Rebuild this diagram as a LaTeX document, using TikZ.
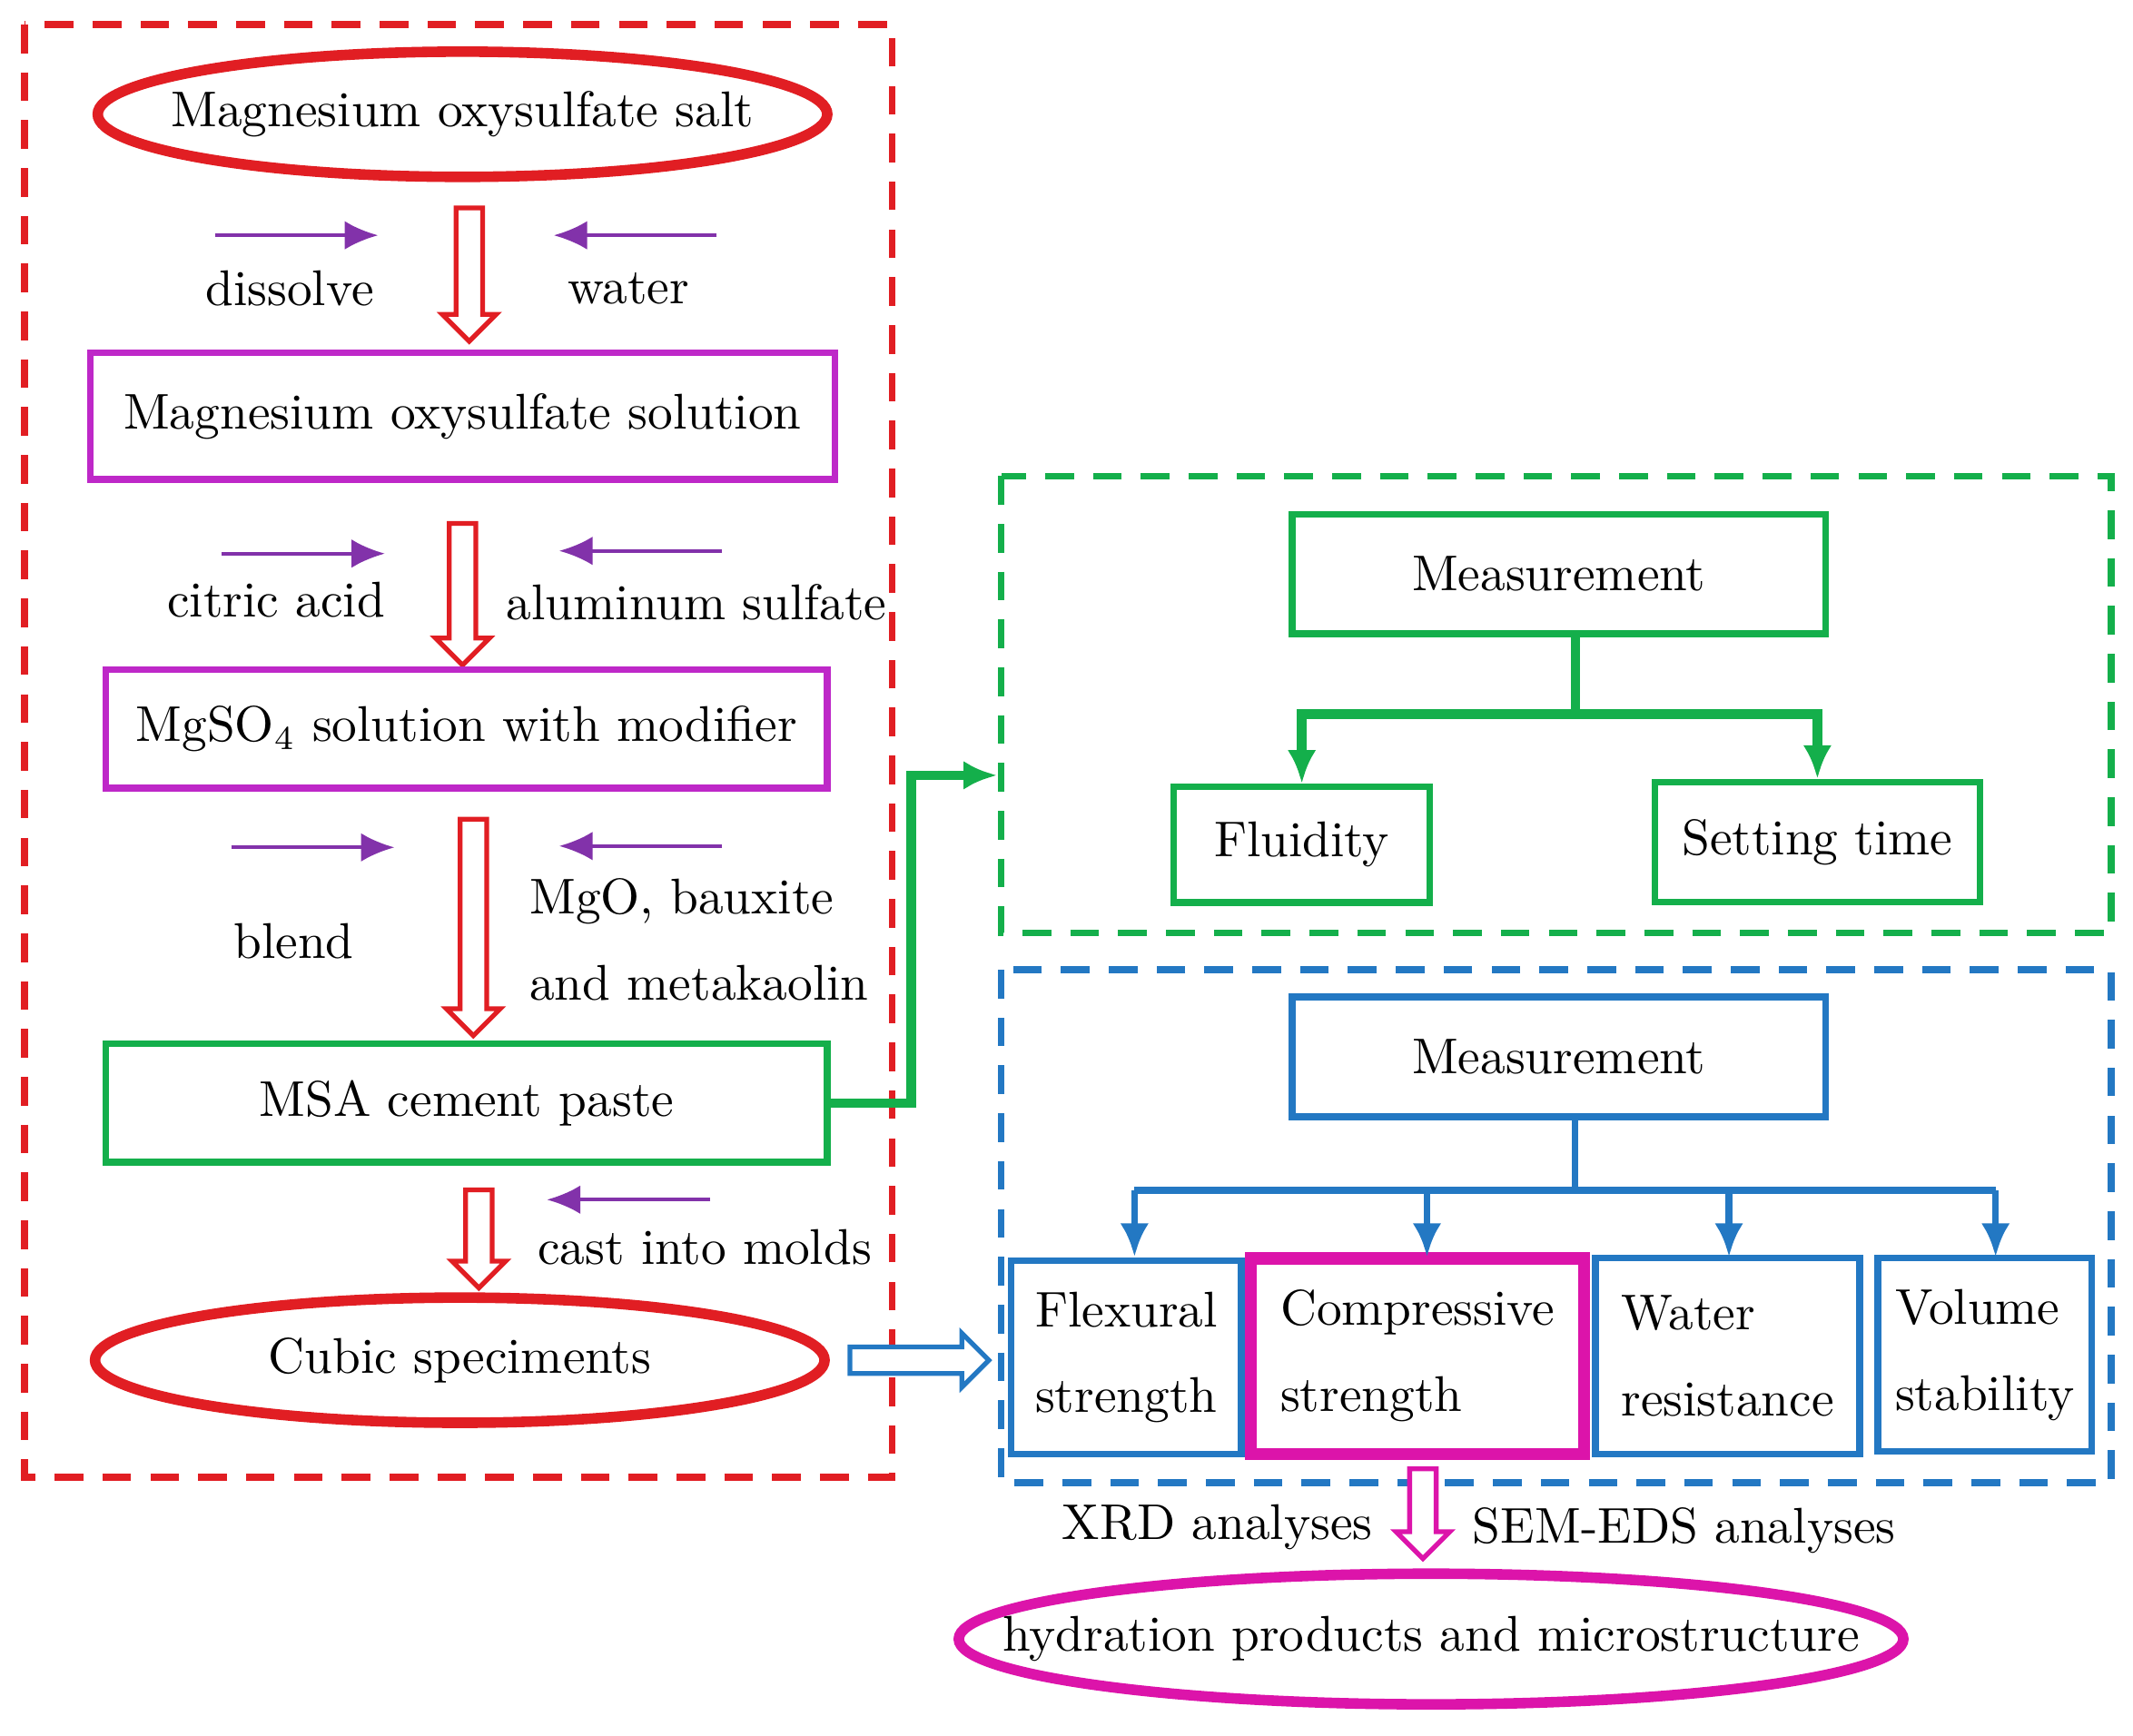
\documentclass[tikz,border=0pt]{standalone}
\usetikzlibrary{shapes.geometric,shapes.arrows,arrows.meta}
\definecolor{myred}{RGB}{225,30,35}
\definecolor{mymag}{RGB}{190,40,200}
\definecolor{mypink}{RGB}{220,20,170}
\definecolor{mygreen}{RGB}{20,175,75}
\definecolor{myblue}{RGB}{35,120,195}
\definecolor{mypurple}{RGB}{130,50,170}
\tikzset{
	redell/.style={ellipse, draw=myred, line width=2.2pt, minimum width=5.36cm, minimum height=0.92cm, inner ysep=0pt, inner xsep=-0.26cm},
	box/.style={rectangle, draw=#1, line width=1.4pt, inner sep=2pt},
	hollow/.style={single arrow, draw=#1, line width=1pt, fill=white, inner sep=0.08cm, single arrow head extend=0.1cm, single arrow head indent=0pt},
	addin/.style={-{Latex[length=7pt,width=6pt]}, mypurple, line width=0.8pt},
	tree/.style={-{Latex[length=7pt,width=6pt]}, line width=#1},
	frame/.style={dashed, line width=1.4pt, draw=#1, dash pattern=on 6pt off 4pt}
}
\begin{document}
\begin{tikzpicture}[x=0.01cm,y=-0.01cm,font=\fontsize{10.5}{12}\selectfont]
	\useasboundingbox (0,0) rectangle (1568,1276);

	% Left frame: preparation
	\draw[frame=myred] (18,18) rectangle (656,1086);
	\node[redell] (Salt) at (340,84) {Magnesium oxysulfate salt};
	\node[hollow=myred, rotate=-90, minimum height=0.98cm, minimum width=0.38cm] (Arrow1) at (345,197) {};
	\coordinate (Dis1) at (158,173); \coordinate (Dis2) at (278,173);
	\coordinate (Wat1) at (527,173); \coordinate (Wat2) at (407,173);
	\draw[addin] (Dis1) -- (Dis2);
	\draw[addin] (Wat1) -- (Wat2);
	\node (Dissolve) at (213,212) {dissolve};
	\node (Water) at (462,212) {water};

	\node[box=mymag, minimum width=5.47cm, minimum height=0.93cm] (Solution) at (340,306) {Magnesium oxysulfate solution};
	\node[hollow=myred, rotate=-90, minimum height=1.04cm, minimum width=0.38cm] (Arrow2) at (340,432) {};
	\coordinate (Cit1) at (163,407); \coordinate (Cit2) at (283,407);
	\coordinate (Alu1) at (531,405); \coordinate (Alu2) at (411,405);
	\draw[addin] (Cit1) -- (Cit2);
	\draw[addin] (Alu1) -- (Alu2);
	\node (Citric) at (203,441) {citric acid};
	\node (Alum) at (512,443) {aluminum sulfate};

	\node[box=mymag, minimum width=5.30cm, minimum height=0.87cm] (Modifier) at (343,536) {MgSO$_4$ solution with modifier};
	\node[hollow=myred, rotate=-90, minimum height=1.59cm, minimum width=0.38cm] (Arrow3) at (348,677) {};
	\coordinate (Ble1) at (170,623); \coordinate (Ble2) at (290,623);
	\coordinate (Mgo1) at (531,622); \coordinate (Mgo2) at (411,622);
	\draw[addin] (Ble1) -- (Ble2);
	\draw[addin] (Mgo1) -- (Mgo2);
	\node (Blend) at (216,692) {blend};
	\node[align=left] (Mgo) at (514,691) {MgO, bauxite\\[6pt]and metakaolin};

	\node[box=mygreen, minimum width=5.30cm, minimum height=0.87cm] (Paste) at (343,811) {MSA cement paste};
	\node[hollow=myred, rotate=-90, minimum height=0.72cm, minimum width=0.38cm] (Arrow4) at (352,906) {};
	\coordinate (Cas1) at (522,882); \coordinate (Cas2) at (402,882);
	\draw[addin] (Cas1) -- (Cas2);
	\node (Cast) at (518,917) {cast into molds};
	\node[redell] (Cubic) at (338,1000) {Cubic speciments};

	% Green frame: fresh properties
	\draw[frame=mygreen] (736,350) rectangle (1552,686);
	\coordinate (GreenIn) at (733,570);
	\draw[tree=2pt, mygreen] (Paste.east) -| (670,570) -- (GreenIn);
	\node[box=mygreen, minimum width=3.92cm, minimum height=0.88cm] (MeasG) at (1146,422) {Measurement};
	\node[box=mygreen, minimum width=1.88cm, minimum height=0.85cm] (Fluid) at (957,621) {Fluidity};
	\node[box=mygreen, minimum width=2.39cm, minimum height=0.88cm] (Setting) at (1336,619) {Setting time};
	\draw[mygreen, line width=2pt] (MeasG.south -| 1158,0) -- (1158,525) coordinate (GJ);
	\draw[tree=2pt, mygreen] (GJ) -| (Fluid.north);
	\draw[tree=2pt, mygreen] (GJ) -| (Setting.north);

	% Blue frame: hardened properties
	\draw[frame=myblue] (736,713) rectangle (1552,1090);
	\node[hollow=myblue, minimum height=1.02cm, minimum width=0.34cm] (Arrow5) at (671,1000) {};
	\node[box=myblue, minimum width=3.92cm, minimum height=0.88cm] (MeasB) at (1146,777) {Measurement};
	\node[box=myblue, minimum width=1.69cm, minimum height=1.42cm, align=left] (Flex) at (828,998) {Flexural\\[6pt]strength};
	\node[box=mypink, line width=2.6pt, minimum width=2.45cm, minimum height=1.44cm, align=left] (Comp) at (1042,997) {Compressive\\[6pt]strength};
	\node[box=myblue, minimum width=1.94cm, minimum height=1.44cm, align=left] (Wat) at (1270,997) {Water\hspace{3.2em}\\[6pt]resistance};
	\node[box=myblue, minimum width=1.57cm, minimum height=1.42cm, align=left] (Vol) at (1459,996) {Volume\\[6pt]stability};
	\draw[myblue, line width=1.4pt] (1158,821) -- (1158,875) coordinate (BJ);
	\draw[myblue, line width=1.4pt] (834,875) -- (1467,875);
	\foreach \bx/\bn in {834/Flex,1049/Comp,1271/Wat,1467/Vol}
		\draw[tree=1.4pt, myblue] (\bx,875) -- (\bx,924);

	% Microstructure
	\node[hollow=mypink, rotate=-90, minimum height=0.66cm, minimum width=0.34cm] (Arrow6) at (1046,1108) {};
	\node (XRD) at (895,1123) {XRD analyses};
	\node (SEM) at (1238,1125) {SEM-EDS analyses};
	\node[ellipse, draw=mypink, line width=2.2pt, minimum width=6.94cm, minimum height=0.96cm, inner ysep=0pt, inner xsep=-0.7cm] (Hyd) at (1052,1205) {hydration products and microstructure};
\end{tikzpicture}
\end{document}
